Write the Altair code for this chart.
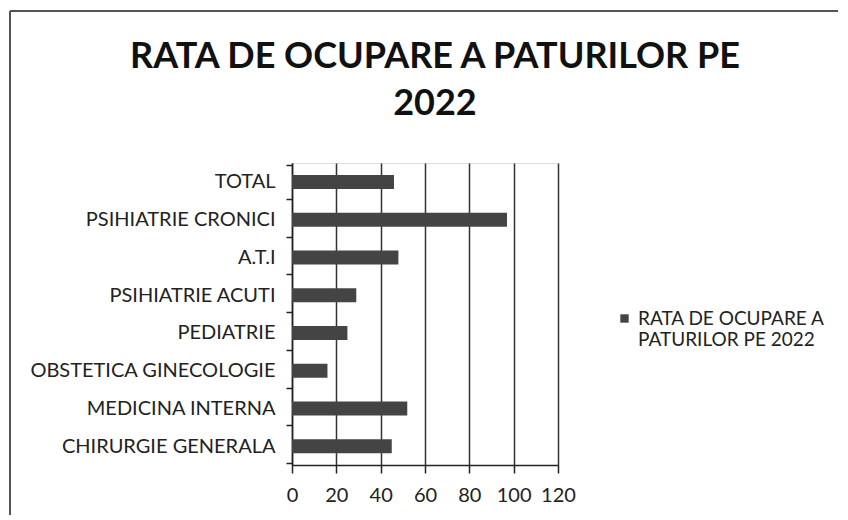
import altair as alt
import pandas as pd

categories = ["TOTAL", "PSIHIATRIE CRONICI", "A.T.I", "PSIHIATRIE ACUTI",
              "PEDIATRIE", "OBSTETICA GINECOLOGIE", "MEDICINA INTERNA",
              "CHIRURGIE GENERALA"]
values = [46, 97, 48, 29, 25, 16, 52, 45]
series_name = "RATA DE OCUPARE A PATURILOR PE 2022"
x_ticks = [0, 20, 40, 60, 80, 100, 120]
title_lines = ["RATA DE OCUPARE A PATURILOR PE", "2022"]
legend_lines = ["RATA DE OCUPARE A", "PATURILOR PE 2022"]

df = pd.DataFrame({"sectie": categories, "rata": values, "serie": series_name})

FONT = "Lato"
INK = "#222222"

bars = alt.Chart(df).mark_bar(size=14).encode(
    y=alt.Y("sectie:N", sort=categories, title=None,
            axis=alt.Axis(tickBand="extent", labelFont=FONT, labelFontSize=20,
                          labelColor=INK, labelPadding=11, labelLimit=320,
                          domainColor=INK, domainWidth=1.5, tickColor=INK,
                          tickWidth=1.5, tickSize=6, grid=False)),
    x=alt.X("rata:Q", title=None,
            scale=alt.Scale(domain=[0, 120], nice=False),
            axis=alt.Axis(values=x_ticks, grid=True, gridColor="#333333",
                          gridWidth=1.5, domainColor=INK, domainWidth=1.5,
                          tickColor=INK, tickWidth=1.5, tickSize=8,
                          labelFont=FONT, labelFontSize=20, labelColor=INK,
                          labelPadding=12, labelOverlap=False,
                          labelFlush=False)),
    color=alt.Color("serie:N",
                    scale=alt.Scale(range=["#444444"]),
                    legend=alt.Legend(title=None, orient="none",
                                      legendX=323, legendY=146,
                                      symbolType="square", symbolSize=70,
                                      labelFont=FONT, labelFontSize=19,
                                      labelColor=INK, labelLimit=400,
                                      labelExpr=str(legend_lines))),
)

frame_src = pd.DataFrame({"k": [0]})
frame_top = alt.Chart(frame_src).mark_rule(color="#555555", strokeWidth=2).encode(
    x=alt.value(-282), x2=alt.value(570), y=alt.value(-152))
frame_left = alt.Chart(frame_src).mark_rule(color="#555555", strokeWidth=2).encode(
    x=alt.value(-282), y=alt.value(-152), y2=alt.value(360))

chart = alt.layer(bars, frame_top, frame_left).properties(
    width=266,
    height=302,
    title=alt.TitleParams(text=title_lines, font=FONT, fontSize=36,
                          fontWeight="bold", color="#111111", anchor="middle",
                          lineHeight=47, offset=-113, dx=10),
    autosize=alt.AutoSizeParams(type="none"),
    padding={"left": 284, "top": 155, "right": 280, "bottom": 50},
).configure_view(stroke=None).configure(background="white")

chart.save("out.html", embed_options={"renderer": "svg", "actions": False})
